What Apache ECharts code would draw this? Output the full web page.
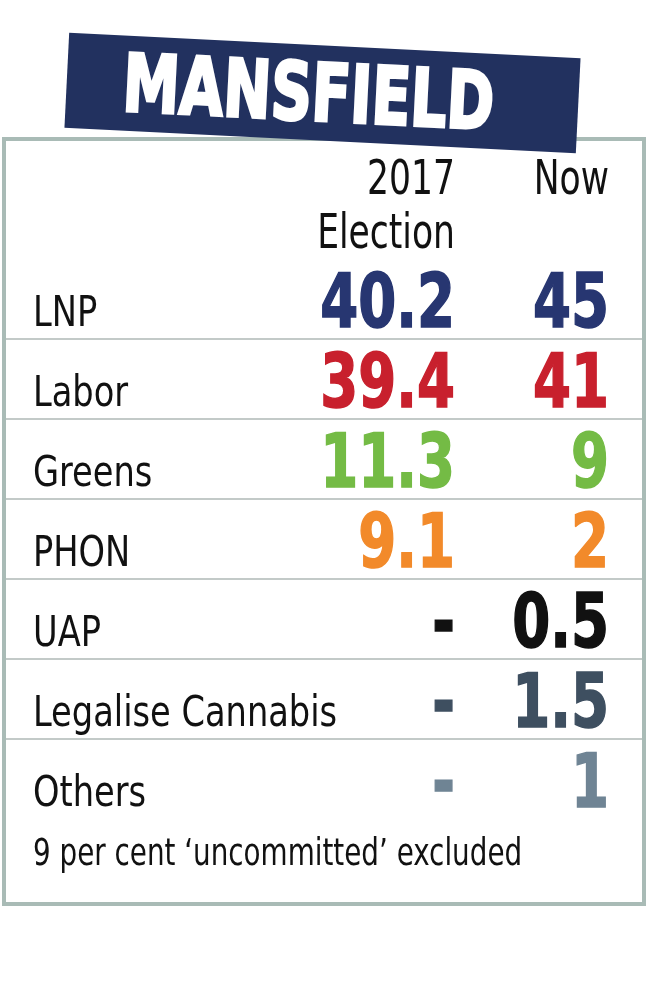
<!DOCTYPE html>
<html>
<head>
<meta charset="utf-8">
<script src="https://cdn.jsdelivr.net/npm/echarts@6/dist/echarts.min.js"></script>
<style>
html,body{margin:0;padding:0;background:#fff;}
#c{width:650px;height:1000px;}
</style>
</head>
<body>
<div id="c"></div>
<script>
// ---- data ----
const title = 'MANSFIELD';
const parties = ['LNP', 'Labor', 'Greens', 'PHON', 'UAP', 'Legalise Cannabis', 'Others'];
const columnHeaders = [['2017', 'Election'], ['Now']];
const election2017 = [40.2, 39.4, 11.3, 9.1, null, null, null];
const nowPoll = [45, 41, 9, 2, 0.5, 1.5, 1];
const partyColors = ['#273671', '#c8202d', '#74bb45', '#f28a2a', '#111111', '#3e4f60', '#6f8494'];
const footnote = '9 per cent \u2018uncommitted\u2019 excluded';

// ---- styles ----
const FONT = "'DejaVu Sans Condensed', 'DejaVu Sans', sans-serif";
const NAVY = '#22315f';
const BORDER = '#a9bbb6';
const SEP = '#c3cac8';
const LABEL_X = 33;

const columns = [election2017, nowPoll];
const cells = [];
columns.forEach((col, ci) => {
  col.forEach((v, ri) => {
    cells.push({ value: [ci + 1, ri], text: v === null ? '-' : String(v), color: partyColors[ri] });
  });
});
const sepData = parties.map((p, i) => [0, i]).filter(d => d[1] > 0);
const labelData = parties.map((p, i) => [0, i]);
const headerData = [];
columnHeaders.forEach((lines, ci) => lines.forEach((t, li) => headerData.push({ value: [ci + 1, 0], text: t, line: li })));

const chart = echarts.init(document.getElementById('c'), null, { renderer: 'canvas' });
chart.setOption({
  backgroundColor: '#ffffff',
  animation: false,
  grid: { left: 301, right: 41, top: 259, height: 560 },
  xAxis: {
    type: 'value', position: 'top', min: 0, max: 2, interval: 1,
    axisLine: { show: false }, axisTick: { show: false }, splitLine: { show: false },
    axisLabel: { show: false }
  },
  yAxis: {
    type: 'category', inverse: true, data: parties,
    axisLine: { show: false }, axisTick: { show: false }, splitLine: { show: false },
    axisLabel: { show: false }
  },
  series: [
    {
      // row separators
      type: 'custom',
      data: sepData,
      encode: { x: 0, y: 1 },
      renderItem: (params, api) => {
        const p = api.coord([0, api.value(1)]);
        const h = api.size([0, 1])[1];
        const y = Math.round(p[1] - h / 2);
        return {
          type: 'line',
          shape: { x1: 6, y1: y, x2: 642, y2: y },
          style: { stroke: SEP, lineWidth: 2 }
        };
      },
      z: 1
    },
    {
      // party names
      type: 'custom',
      data: labelData,
      encode: { x: 0, y: 1 },
      renderItem: (params, api) => {
        const p = api.coord([0, api.value(1)]);
        return {
          type: 'text',
          x: LABEL_X, y: p[1] + 16,
          scaleX: 0.87,
          style: {
            text: parties[params.dataIndex], fill: '#111',
            font: "43px " + FONT, align: 'left', verticalAlign: 'middle'
          }
        };
      },
      z: 3
    },
    {
      // column headers
      type: 'custom',
      data: headerData.map(h => h.value),
      encode: { x: 0, y: 1 },
      renderItem: (params, api) => {
        const h = headerData[params.dataIndex];
        const p = api.coord([api.value(0), api.value(1)]);
        const top = p[1] - api.size([0, 1])[1] / 2;
        return {
          type: 'text',
          x: p[0], y: top - 77 + h.line * 54,
          scaleX: 0.8,
          style: {
            text: h.text, fill: '#111',
            font: "48px " + FONT, align: 'right', verticalAlign: 'middle'
          }
        };
      },
      z: 3
    },
    {
      // values
      type: 'custom',
      data: cells.map(c => c.value),
      encode: { x: 0, y: 1 },
      renderItem: (params, api) => {
        const c = cells[params.dataIndex];
        const p = api.coord([api.value(0), api.value(1)]);
        return {
          type: 'text',
          x: p[0], y: p[1] + 9,
          scaleX: 0.82,
          style: {
            text: c.text, fill: c.color, stroke: c.color, lineWidth: 1.5,
            font: "bold 74px " + FONT,
            align: 'right', verticalAlign: 'middle'
          }
        };
      },
      z: 3
    }
  ],
  graphic: [
    {
      type: 'rect', z: 0,
      shape: { x: 4, y: 139, width: 640, height: 765 },
      style: { fill: '#fff', stroke: BORDER, lineWidth: 4 }
    },
    {
      type: 'group', x: 322.5, y: 93, rotation: -0.05, z: 10,
      children: [
        { type: 'rect', shape: { x: -256, y: -47.5, width: 512, height: 95 }, style: { fill: NAVY } },
        {
          type: 'text', x: -14, y: 7, scaleX: 0.79,
          style: {
            text: title, fill: '#fff', stroke: '#fff', lineWidth: 3,
            font: "bold 80px " + FONT, align: 'center', verticalAlign: 'middle'
          }
        }
      ]
    },
    {
      type: 'text', x: LABEL_X, y: 855, z: 5, scaleX: 0.835,
      style: { text: footnote, fill: '#111', font: "37px " + FONT, align: 'left', verticalAlign: 'middle' }
    }
  ]
});
</script>
</body>
</html>
